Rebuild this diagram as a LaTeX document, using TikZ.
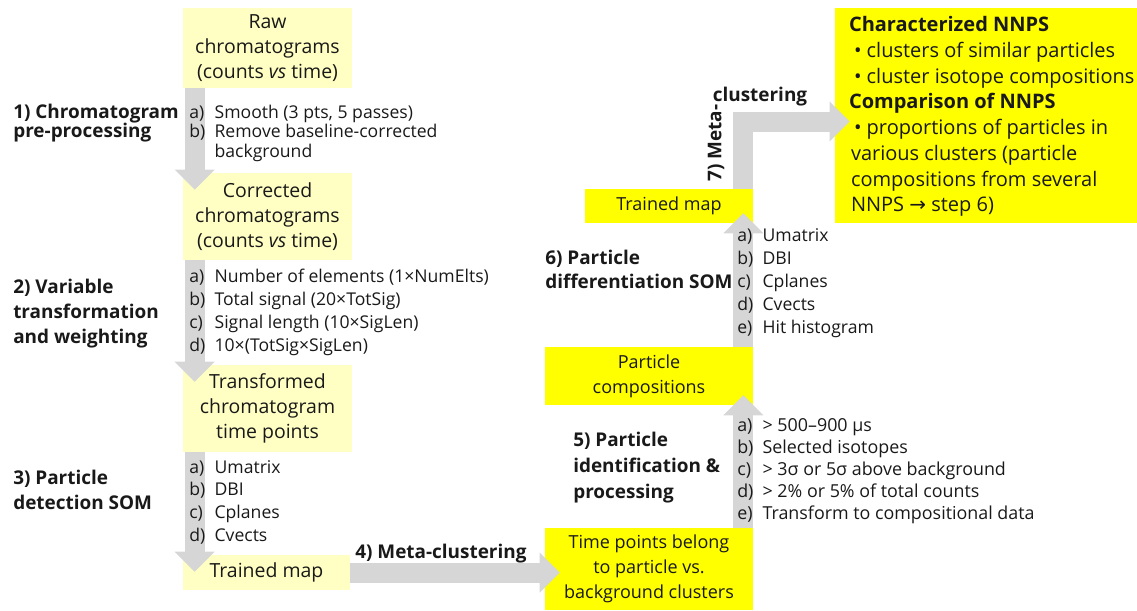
\documentclass[tikz,border=0pt]{standalone}
\usepackage{fontspec}
\setmainfont{Open Sans}
\newfontfamily\symfont{DejaVu Sans}
\usetikzlibrary{arrows.meta, positioning, calc}
\definecolor{palebox}{RGB}{255,255,196}
\definecolor{brightbox}{RGB}{255,255,0}
\definecolor{flowgray}{RGB}{214,214,214}
\definecolor{inkdark}{RGB}{25,25,25}
\newlength\itemw
\setlength\itemw{19pt}
\newcommand\itm[2]{\makebox[\itemw][l]{#1}#2}
\tikzset{
  every node/.append style={text=inkdark},
  stage/.style={rectangle, fill=palebox, minimum width=126.75pt, align=center, inner sep=0pt, font=\fontsize{14.6}{18.75}\selectfont},
  stagehi/.style={stage, fill=brightbox, font=\fontsize{13.5}{18.75}\selectfont},
  items/.style={anchor=base west, align=left, inner sep=0pt},
  steplabel/.style={anchor=base west, align=left, inner sep=0pt},
  flow/.style={draw=flowgray, line width=15pt, line join=miter, -{Triangle[length=15pt 0, width=30pt 0, line width=0pt 0]}}
}
\begin{document}
\begin{tikzpicture}[x=0.75pt, y=-0.75pt]
  \useasboundingbox (0,0) rectangle (1137,610);

  % left column
  \node (raw) [stage, minimum height=60pt] at (267.5,48) {Raw\\ chromatograms\\ (counts \textit{vs} time)};
  \node (corr) [stage, minimum height=65.25pt] at (267.5,216.5) {Corrected\\ chromatograms\\ (counts \textit{vs} time)};
  \node (trans) [stage, minimum height=65.25pt] at (267.5,408.5) {Transformed\\ chromatogram\\ time points};
  \node (tmapa) [stage, minimum width=125.25pt, minimum height=26.25pt] at (266.5,572.5) {Trained map};

  % right part
  \node (tpts) [stagehi, minimum width=156pt, minimum height=61.5pt] at (649,569) {Time points belong\\ to particle vs.\\ background clusters};
  \node (comp) [stagehi, minimum width=156pt, minimum height=43.5pt] at (649,376) {Particle\\ compositions};
  \node (tmapb) [stagehi, minimum width=126pt, minimum height=25.5pt] at (669,206) {Trained map};
  \node (nnps) [stagehi, minimum width=226.5pt, minimum height=161.25pt] at (986,115.5) {};

  % flow arrows
  \draw [flow] ([xshift=9pt]raw.south west) -- ([shift={(12,17)}]corr.north west);
  \draw [flow] ([xshift=9pt]corr.south west) -- ([shift={(12,17)}]trans.north west);
  \draw [flow] ([xshift=9pt]trans.south west) -- ([shift={(12,17)}]tmapa.north west);
  \draw [flow] (tmapa.east) -- ($(tmapa.east -| tpts.west)+(15,0)$);
  \draw [flow] ([xshift=-7.5pt]tpts.north east) -- ([shift={(-10,-10)}]comp.south east);
  \draw [flow] ([xshift=-7.5pt]comp.north east) -- ([shift={(-10,-10)}]tmapb.south east);
  \draw [flow] ([xshift=-7.875pt]tmapb.north east) |- ([shift={(15,6)}]nnps.west);

  % item lists (anchored at the baseline of their last line)
  \node (lst1) [items, font=\fontsize{13.2}{14.6}\selectfont] at (189,157) {\itm{a)}{Smooth (3 pts, 5 passes)}\\ \itm{b)}{Remove baseline-corrected}\\ \itm{}{background}};
  \node (lst2) [items, font=\fontsize{13.2}{17.25}\selectfont] at (189,351) {\itm{a)}{Number of elements (1×NumElts)}\\ \itm{b)}{Total signal (20×TotSig)}\\ \itm{c)}{Signal length (10×SigLen)}\\ \itm{d)}{10×(TotSig×SigLen)}};
  \node (lst3) [items, font=\fontsize{13.2}{17}\selectfont] at (189,541) {\itm{a)}{Umatrix}\\ \itm{b)}{DBI}\\ \itm{c)}{Cplanes}\\ \itm{d)}{Cvects}};
  \node (lst5) [items, font=\fontsize{13.4}{16.5}\selectfont] at (737,519) {\itm{a)}{> 500–900 µs}\\ \itm{b)}{Selected isotopes}\\ \itm{c)}{> 3σ or 5σ above background}\\ \itm{d)}{> 2\% or 5\% of total counts}\\ \itm{e)}{Transform to compositional data}};
  \node (lst6) [items, font=\fontsize{13.2}{17.25}\selectfont] at (737,333) {\itm{a)}{Umatrix}\\ \itm{b)}{DBI}\\ \itm{c)}{Cplanes}\\ \itm{d)}{Cvects}\\ \itm{e)}{Hit histogram}};

  % step titles
  \node (st1) [steplabel, font=\fontsize{14.2}{14.6}\selectfont\bfseries] at (13,137.5) {1) Chromatogram\\ pre-processing};
  \node (st2) [steplabel, font=\fontsize{14.2}{18.4}\selectfont\bfseries] at (13,343) {2) Variable\\ transformation\\ and weighting};
  \node (st3) [steplabel, font=\fontsize{14.2}{18.75}\selectfont\bfseries] at (13,509) {3) Particle\\ detection SOM};
  \node (st4) [steplabel, font=\fontsize{14.2}{18}\selectfont\bfseries] at (355,558) {4) Meta-clustering};
  \node (st5) [steplabel, font=\fontsize{14.2}{19.5}\selectfont\bfseries] at (573,498) {5) Particle\\ identification \&\\ processing};
  \node (st6) [steplabel, font=\fontsize{14.2}{18}\selectfont\bfseries] at (545,288) {6) Particle\\ differentiation SOM};
  \node (st7a) [inner sep=0pt, rotate=90, font=\fontsize{14.2}{18}\selectfont\bfseries] at (716,143) {7) Meta-};
  \node (st7b) [inner sep=0pt, font=\fontsize{14.2}{18}\selectfont\bfseries] at (760,97) {clustering};

  % outcome text
  \node (nnpstext) [anchor=west, align=left, inner sep=0pt, font=\fontsize{15}{19.3}\selectfont] at ([shift={(14,1)}]nnps.west) {\textbf{Characterized NNPS}\\ \hspace{3.75pt}• clusters of similar particles\\ \hspace{3.75pt}• cluster isotope compositions\\ \textbf{Comparison of NNPS}\\ \hspace{3.75pt}• proportions of particles in\\ \hspace{1.5pt}various clusters (particle\\ \hspace{1.5pt}compositions from several\\ \hspace{1.5pt}NNPS {\symfont →} step 6)};
\end{tikzpicture}
\end{document}
